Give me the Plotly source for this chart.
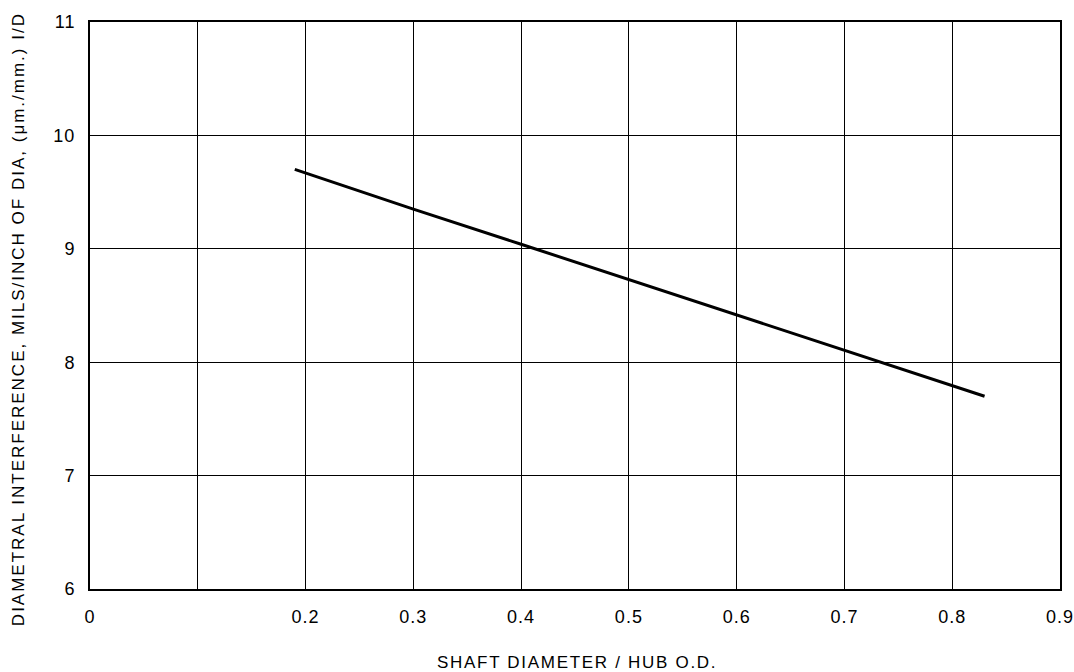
import plotly.graph_objects as go

ratio = [0.19, 0.30, 0.40, 0.50, 0.60, 0.70, 0.83]
interference = [9.70, 9.35, 9.04, 8.73, 8.42, 8.11, 7.70]

x_ticks = [0, 0.1, 0.2, 0.3, 0.4, 0.5, 0.6, 0.7, 0.8, 0.9]
x_labels = ["0", "", "0.2", "0.3", "0.4", "0.5", "0.6", "0.7", "0.8", "0.9"]
y_ticks = [6, 7, 8, 9, 10, 11]
y_labels = ["6", "7", "8", "9", "10", "11"]

x_title = "SHAFT DIAMETER / HUB O.D."
y_title = "DIAMETRAL INTERFERENCE, MILS/INCH OF DIA, (μm./mm.) I/D"


def spaced(s, px):
    return '<span style="letter-spacing:%spx">%s</span>' % (px, s) if s else s


fig = go.Figure()
fig.add_trace(go.Scatter(x=ratio, y=interference, mode="lines",
                         line=dict(color="black", width=3), showlegend=False))

font = "Liberation Sans, Arial, sans-serif"
fig.update_layout(
    width=1074, height=672,
    margin=dict(l=90, r=14, t=22, b=83),
    paper_bgcolor="white", plot_bgcolor="white",
    font=dict(family=font, color="black", size=18),
    xaxis=dict(range=[0, 0.9], tickvals=x_ticks,
               ticktext=[spaced(t, 1) for t in x_labels],
               showgrid=True, gridcolor="black", gridwidth=1,
               showline=True, linecolor="black", linewidth=2, mirror=True,
               zeroline=False, ticks="outside", ticklen=10, tickcolor="rgba(0,0,0,0)",
               tickfont=dict(size=18, family=font), automargin=False,
               ticklabeloverflow="allow"),
    yaxis=dict(range=[6, 11], tickvals=y_ticks,
               ticktext=[spaced(t, 1) for t in y_labels],
               showgrid=True, gridcolor="black", gridwidth=1,
               showline=True, linecolor="black", linewidth=2, mirror=True,
               zeroline=False, ticks="outside", ticklen=9, tickcolor="rgba(0,0,0,0)",
               tickfont=dict(size=18, family=font), automargin=False,
               ticklabeloverflow="allow"),
    annotations=[
        dict(text=spaced(x_title, 1.7),
             xref="paper", yref="paper", x=0.502, y=-0.1305,
             xanchor="center", yanchor="middle", showarrow=False,
             font=dict(size=17, family=font)),
        dict(text=spaced(y_title, 2.0),
             xref="paper", yref="paper", x=-0.0742, y=0.476, textangle=-90,
             xanchor="center", yanchor="middle", showarrow=False,
             font=dict(size=17, family=font)),
    ],
)
fig.write_html("out.html", config={"displayModeBar": False},
               post_script="document.body.style.margin='0';document.body.style.overflow='hidden';")
